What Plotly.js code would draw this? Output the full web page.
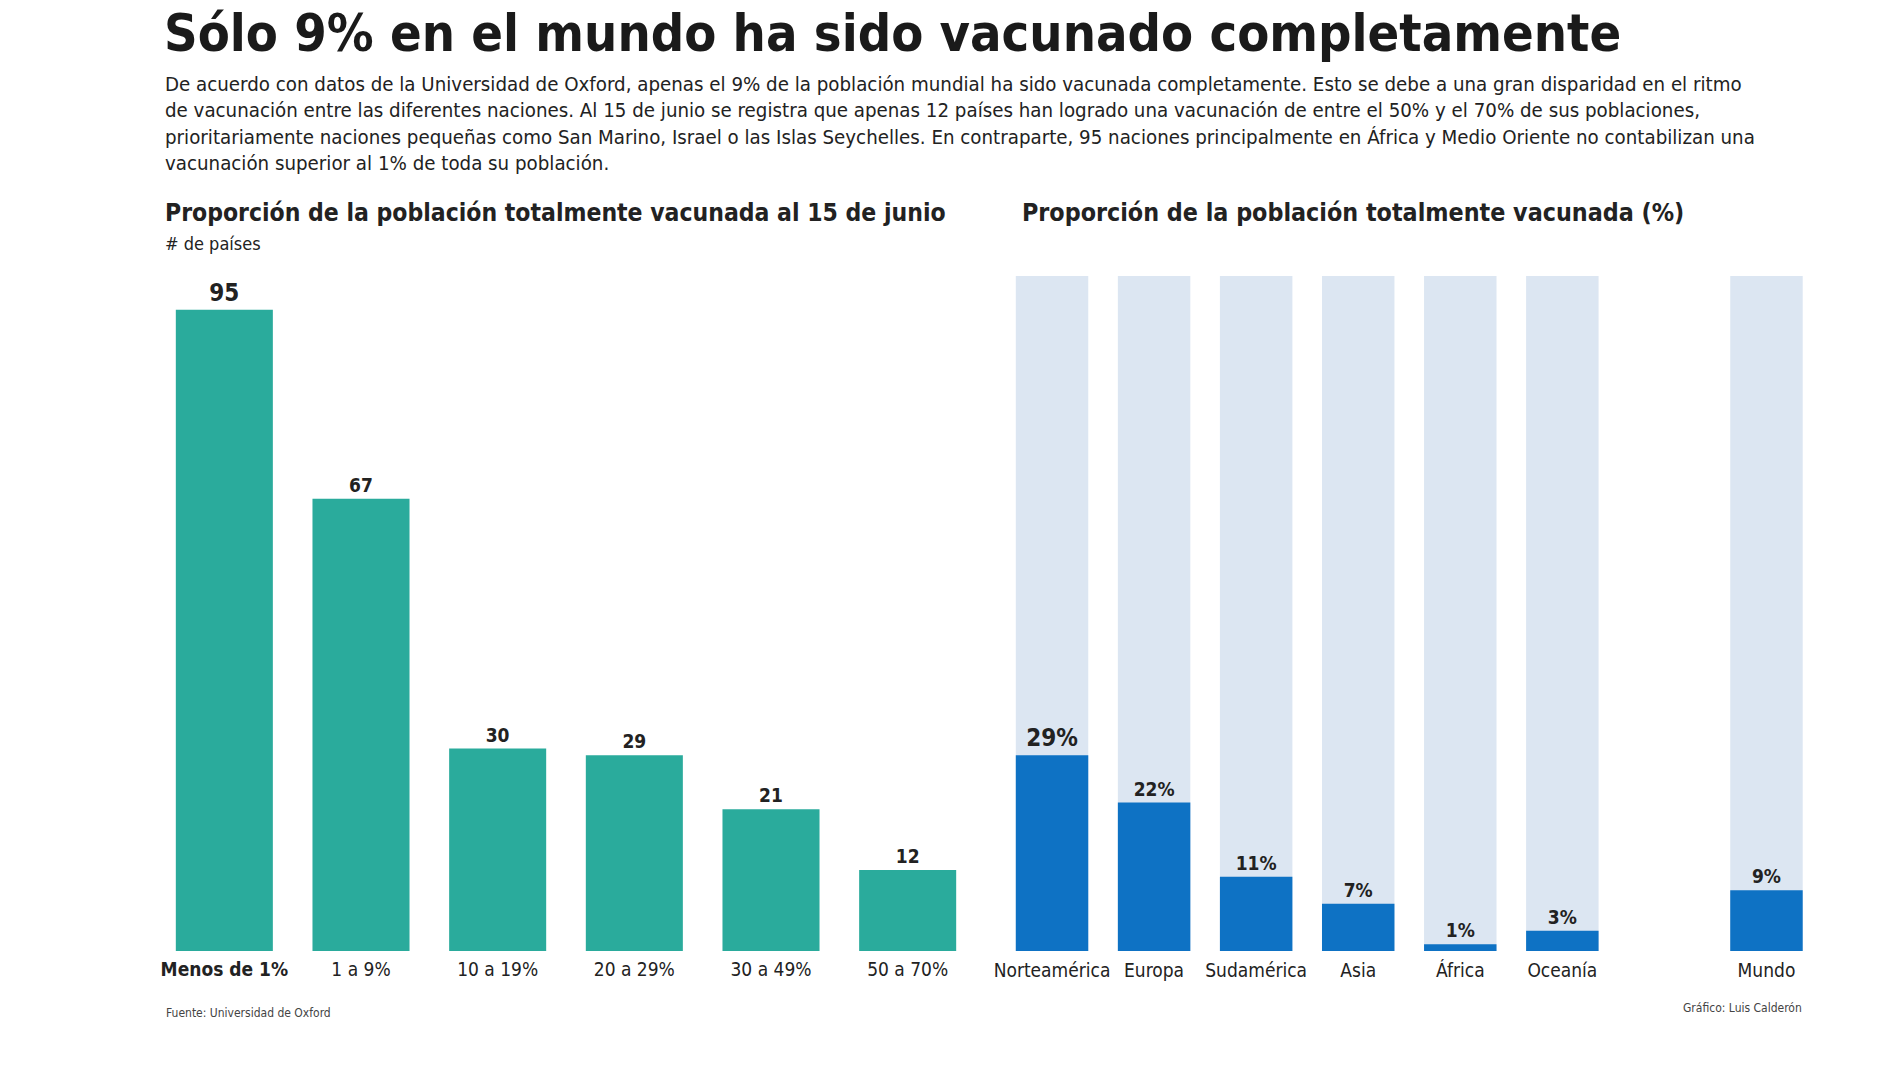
<!DOCTYPE html>
<html>
<head>
<meta charset="utf-8">
<script src="https://cdn.plot.ly/plotly-3.0.1.min.js"></script>
<style>
html,body{margin:0;padding:0;background:#fff;}
#chart{width:1900px;height:1066px;}
</style>
</head>
<body>
<div id="chart"></div>
<script>
// ---- Data ----
const rangeCategories = ["Menos de 1%", "1 a 9%", "10 a 19%", "20 a 29%", "30 a 49%", "50 a 70%"];
const countryCounts = [95, 67, 30, 29, 21, 12];

const regionNames = ["Norteamérica", "Europa", "Sudamérica", "Asia", "África", "Oceanía", "Mundo"];
const regionPositions = [0, 1, 2, 3, 4, 5, 7];
const vaccinatedPct = [29, 22, 11, 7, 1, 3, 9];
const fullPct = [100, 100, 100, 100, 100, 100, 100];

const titleText = "Sólo 9% en el mundo ha sido vacunado completamente";
const bodyLines = [
  "De acuerdo con datos de la Universidad de Oxford, apenas el 9% de la población mundial ha sido vacunada completamente. Esto se debe a una gran disparidad en el ritmo",
  "de vacunación entre las diferentes naciones. Al 15 de junio se registra que apenas 12 países han logrado una vacunación de entre el 50% y el 70% de sus poblaciones,",
  "prioritariamente naciones pequeñas como San Marino, Israel o las Islas Seychelles. En contraparte, 95 naciones principalmente en África y Medio Oriente no contabilizan una",
  "vacunación superior al 1% de toda su población."
];
const leftSubtitle = "Proporción de la población totalmente vacunada al 15 de junio";
const leftUnit = "# de países";
const rightSubtitle = "Proporción de la población totalmente vacunada (%)";
const sourceText = "Fuente: Universidad de Oxford";
const creditText = "Gráfico: Luis Calderón";

// ---- Styles ----
const FONT = "'DejaVu Sans Condensed', 'Liberation Sans Narrow', 'Roboto', sans-serif";
const TEAL = "#2aab9c";
const BLUE = "#0e72c4";
const LIGHT = "#dce6f2";
const INK = "#222222";

const leftTextSizes = countryCounts.map((v, i) => i === 0 ? 24 : 19);
const leftTexts = countryCounts.map(v => "<b>" + v + "</b>");
const rightTextSizes = vaccinatedPct.map((v, i) => i === 0 ? 24 : 19);
const rightTexts = vaccinatedPct.map(v => "<b>" + v + "%</b>");

const traces = [
  {
    type: "bar",
    x: rangeCategories.map((c, i) => i),
    y: countryCounts,
    marker: {color: TEAL},
    text: leftTexts,
    textposition: "outside",
    cliponaxis: false,
    textfont: {family: FONT, size: leftTextSizes, color: INK},
    xaxis: "x", yaxis: "y",
    hoverinfo: "skip"
  },
  {
    type: "bar",
    x: regionPositions,
    y: fullPct,
    marker: {color: LIGHT},
    xaxis: "x2", yaxis: "y2",
    hoverinfo: "skip"
  },
  {
    type: "bar",
    x: regionPositions,
    y: vaccinatedPct,
    marker: {color: BLUE},
    text: rightTexts,
    textposition: "outside",
    cliponaxis: false,
    textfont: {family: FONT, size: rightTextSizes, color: INK},
    xaxis: "x2", yaxis: "y2",
    hoverinfo: "skip"
  }
];

const yDom = [(1066 - 951) / 1066, (1066 - 276) / 1066];

const leftTickText = rangeCategories.map((c, i) => i === 0 ? "<b>" + c + "</b>" : c);

const layout = {
  width: 1900, height: 1066,
  margin: {l: 0, r: 0, t: 0, b: 0},
  paper_bgcolor: "#ffffff",
  plot_bgcolor: "rgba(0,0,0,0)",
  showlegend: false,
  barmode: "overlay",
  bargap: 0.29,
  font: {family: FONT, color: INK},
  xaxis: {
    domain: [156 / 1900, 976 / 1900],
    range: [-0.5, 5.5],
    tickvals: rangeCategories.map((c, i) => i),
    ticktext: leftTickText,
    tickfont: {family: FONT, size: 19, color: INK},
    ticklabelstandoff: 5,
    showgrid: false, zeroline: false, showline: false, ticks: "",
    fixedrange: true
  },
  yaxis: {
    domain: yDom,
    range: [0, 100],
    visible: false, fixedrange: true
  },
  xaxis2: {
    domain: [1001 / 1900, 1817.5 / 1900],
    range: [-0.5, 7.5],
    tickvals: regionPositions,
    ticktext: regionNames,
    tickfont: {family: FONT, size: 19, color: INK},
    ticklabelstandoff: 6,
    showgrid: false, zeroline: false, showline: false, ticks: "",
    anchor: "y2", fixedrange: true
  },
  yaxis2: {
    domain: yDom,
    range: [0, 100],
    visible: false, anchor: "x2", fixedrange: true
  },
  annotations: [
    {xref: "paper", yref: "paper", x: 162 / 1900, y: 1 - 33 / 1066, xanchor: "left", yanchor: "middle",
     text: "<b>" + titleText + "</b>", showarrow: false,
     font: {family: FONT, size: 52, color: "#1a1a1a"}},
    {xref: "paper", yref: "paper", x: 163 / 1900, y: 1 - 124 / 1066, xanchor: "left", yanchor: "middle", align: "left",
     text: bodyLines.join("<br>"), showarrow: false,
     font: {family: FONT, size: 20.3, color: INK}},
    {xref: "paper", yref: "paper", x: 163 / 1900, y: 1 - 212 / 1066, xanchor: "left", yanchor: "middle",
     text: "<b>" + leftSubtitle + "</b>", showarrow: false,
     font: {family: FONT, size: 24.5, color: INK}},
    {xref: "paper", yref: "paper", x: 163 / 1900, y: 1 - 243 / 1066, xanchor: "left", yanchor: "middle",
     text: leftUnit, showarrow: false,
     font: {family: FONT, size: 18, color: INK}},
    {xref: "paper", yref: "paper", x: 1020 / 1900, y: 1 - 212 / 1066, xanchor: "left", yanchor: "middle",
     text: "<b>" + rightSubtitle + "</b>", showarrow: false,
     font: {family: FONT, size: 24.8, color: INK}},
    {xref: "paper", yref: "paper", x: 164 / 1900, y: 1 - 1013 / 1066, xanchor: "left", yanchor: "middle",
     text: sourceText, showarrow: false,
     font: {family: FONT, size: 12, color: "#444"}},
    {xref: "paper", yref: "paper", x: 1804 / 1900, y: 1 - 1008 / 1066, xanchor: "right", yanchor: "middle",
     text: creditText, showarrow: false,
     font: {family: FONT, size: 12, color: "#444"}}
  ]
};

Plotly.newPlot("chart", traces, layout, {displayModeBar: false, staticPlot: true});
</script>
</body>
</html>
